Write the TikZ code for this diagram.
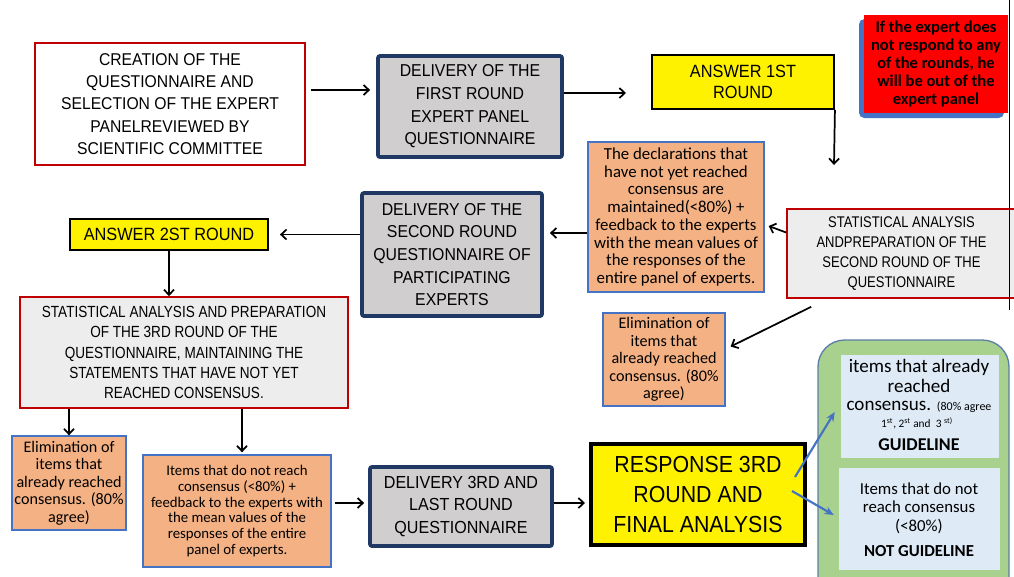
\documentclass[tikz,border=0pt]{standalone}
\usepackage{fontspec}
\setmainfont{Carlito}
\newfontfamily\capsf{Liberation Sans}[FakeStretch=0.92]
\newfontfamily\capsn{Liberation Sans}[FakeStretch=0.84]
\newfontfamily\calf{Carlito}
\usetikzlibrary{arrows.meta,calc}
\definecolor{dred}{HTML}{C00000}
\definecolor{navy}{HTML}{203864}
\definecolor{gfill}{HTML}{D0CECE}
\definecolor{lgray}{HTML}{EDEDED}
\definecolor{orng}{HTML}{F4B183}
\definecolor{obl}{HTML}{4472C4}
\definecolor{grn}{HTML}{A9D18E}
\definecolor{lblue}{HTML}{DEEBF7}
\definecolor{gbord}{HTML}{5B7FA6}
\begin{document}
\begin{tikzpicture}[x=0.75pt,y=-0.75pt,
  sz/.style 2 args={minimum width=#1*0.75pt,minimum height=#2*0.75pt},
  base/.style={inner sep=0pt,align=center},
  redbox/.style={base,draw=dred,line width=1.2pt,fill=white},
  graybox/.style={base,draw=dred,line width=1.2pt,fill=lgray},
  delbox/.style={base,draw=navy,line width=2.8pt,fill=gfill,rounded corners=1.5pt},
  yelbox/.style={base,draw=black,line width=1.4pt,fill=yellow},
  orbox/.style={base,draw=obl,line width=1pt,fill=orng},
  lbbox/.style={base,fill=lblue},
  capt/.style={font=\capsf\fontsize{12.9}{17}\selectfont},
  elimt/.style={font=\calf\fontsize{12.1}{13.2}\selectfont},
  txt/.style={inner sep=0pt,align=center},
  arr/.style={-{Straight Barb[length=4pt,width=7.5pt]},line width=1.3pt},
  barr/.style={-{Stealth[length=7pt,width=6pt]},line width=1.6pt,draw=obl},
]
\useasboundingbox (0,0) rectangle (1014,576);
\fill[white] (0,0) rectangle (1014,576);

% row 1
\node[redbox,sz={270}{122},font=\capsf\fontsize{12.8}{16.8}\selectfont] (n1) at (170,104)
  {CREATION OF THE\\QUESTIONNAIRE AND\\SELECTION OF THE EXPERT\\PANELREVIEWED BY\\SCIENTIFIC COMMITTEE};
\node[delbox,sz={184}{101},capt] (n2) at (470,106.5)
  {DELIVERY OF THE\\FIRST ROUND\\EXPERT PANEL\\QUESTIONNAIRE};
\node[yelbox,sz={182}{54},font=\capsf\fontsize{13.3}{16.3}\selectfont] (n3) at (743,82)
  {ANSWER 1ST\\ROUND};
\fill[obl,rounded corners=4pt] (859,19) rectangle (1004,118);
\node[base,fill=red,sz={144}{98},font=\calf\bfseries\fontsize{12.4}{13.5}\selectfont] (n4) at (936,64)
  {If the expert does\\not respond to any\\of the rounds, he\\will be out of the\\expert panel};

% row 2
\node[orbox,sz={176}{150},font=\calf\fontsize{12.6}{13.3}\selectfont] (n5) at (676,217)
  {The declarations that\\have not yet reached\\consensus are\\maintained(<80\%) +\\feedback to the experts\\with the mean values of\\the responses of the\\entire panel of experts.};
\node[graybox,sz={229}{89},font=\capsn\fontsize{11.6}{15}\selectfont] (n6) at (901.5,253.5)
  {STATISTICAL ANALYSIS\\ANDPREPARATION OF THE\\SECOND ROUND OF THE\\QUESTIONNAIRE};
\draw[line width=0.8pt] (1009.5,0) -- (1009.5,310);
\node[delbox,sz={180}{123},capt] (n7) at (452,254.5)
  {DELIVERY OF THE\\SECOND ROUND\\QUESTIONNAIRE OF\\PARTICIPATING\\EXPERTS};
\node[yelbox,sz={198}{31},font=\capsf\fontsize{13.3}{16}\selectfont] (n8) at (169,234.5)
  {ANSWER 2ST ROUND};

% row 3
\node[graybox,sz={328}{111},font=\capsn\fontsize{12.1}{15.3}\selectfont] (n9) at (184,352.5)
  {STATISTICAL ANALYSIS AND PREPARATION\\OF THE 3RD ROUND OF THE\\QUESTIONNAIRE, MAINTAINING THE\\STATEMENTS THAT HAVE NOT YET\\REACHED CONSENSUS.};
\node[orbox,sz={122}{93},elimt] (n10) at (664,359.5)
  {Elimination of\\items that\\already reached\\consensus. (80\%\\agree)};

% row 4
\node[orbox,sz={114}{94},elimt] (n11) at (69,483)
  {Elimination of\\items that\\already reached\\consensus. (80\%\\agree)};
\node[orbox,sz={188}{112},font=\calf\fontsize{11.1}{11.85}\selectfont] (n12) at (237,511)
  {Items that do not reach\\consensus (<80\%) +\\feedback to the experts with\\the mean values of the\\responses of the entire\\panel of experts.};
\node[delbox,sz={182}{79},font=\capsf\fontsize{13.1}{16.9}\selectfont] (n13) at (461,506.5)
  {DELIVERY 3RD AND\\LAST ROUND\\QUESTIONNAIRE};
\node[base,draw=black,line width=3pt,fill=yellow,sz={214}{101},font=\capsf\fontsize{17.4}{22.5}\selectfont] (n14) at (698,494.5)
  {RESPONSE 3RD\\ROUND AND\\FINAL ANALYSIS};

% green panel
\draw[gbord,line width=1pt,fill=grn,rounded corners=20pt] (818,340) rectangle (1009,620);
\node[lbbox,sz={158}{103}] (lb1) at (920,406) {};
\node[lbbox,sz={161}{102}] (lb2) at (919.5,519) {};
\node[txt,font=\calf\fontsize{14.3}{15.3}\selectfont] (t1) at (919,376) {items that already\\reached};
\node[txt,font=\calf\fontsize{14.3}{15.3}\selectfont] (t2) at (919,407) {consensus. {\fontsize{9}{10}\selectfont (80\% agree}};
\node[txt,font=\calf\fontsize{8.5}{10}\selectfont] (t3) at (917,423) {1\textsuperscript{st}, 2\textsuperscript{st} and~~3 \textsuperscript{st)}};
\node[txt,font=\calf\bfseries\fontsize{13.5}{15}\selectfont] (t4) at (919,445) {GUIDELINE};
\node[txt,font=\calf\fontsize{12.6}{14}\selectfont] (t5) at (919,508) {Items that do not\\reach consensus\\(<80\%)};
\node[txt,font=\calf\bfseries\fontsize{12.6}{14}\selectfont] (t6) at (919,551) {NOT GUIDELINE};

% connectors
\coordinate (c1) at (626,93);
\coordinate (c2) at (834,165);
\draw[arr] ($(n1.east)+(5,-14)$) -- ($(n2.west)+(-6,-16.5)$);
\draw[arr] (n2.east |- c1) -- (c1);
\draw[arr] (n3.south east) -- (c2);
\draw[arr] ($(n6.west)+(0,-21)$) -- ($(n5.east)+(4,9)$);
\draw[arr] ($(n5.west)+(0,16)$) -- ($(n7.east)+(6,-21.5)$);
\draw[arr] (n7.west |- n8.east) -- ($(n8.east)+(11,0)$);
\draw[arr] (n8.south) -- (n8.south |- n9.north);
\draw[arr] ($(n6.south west)+(25,8)$) -- ($(n10.east)+(5,-13)$);
\draw[arr] (n9.south -| n11.north) -- (n11.north);
\draw[arr] ($(n9.south)+(58,0)$) -- ($(n12.north)+(5,-2)$);
\draw[arr] ($(n12.east)+(3,-8)$) -- ($(n13.west)+(-4,-3.5)$);
\draw[arr] ($(n13.east)+(0,-3.5)$) -- ($(n14.west)+(-4,8.5)$);
\draw[barr] ($(n14.east)+(-12,-17.5)$) -- ($(lb1.west)+(-6,6)$);
\draw[barr] ($(n14.east)+(-15,-3.5)$) -- ($(lb2.west)+(-5,-4)$);
\end{tikzpicture}
\end{document}
